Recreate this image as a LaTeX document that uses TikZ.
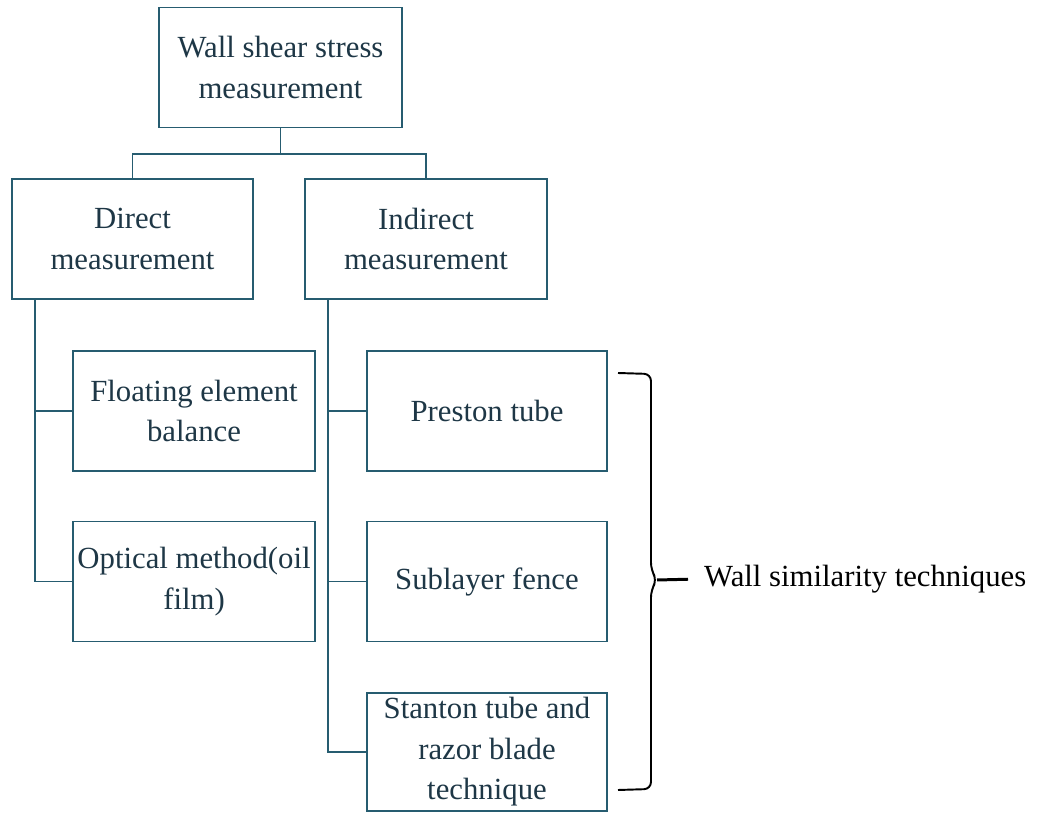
\documentclass[tikz,border=0pt]{standalone}
\usepackage{fontspec}
\setmainfont{Liberation Serif}
\usepackage{xcolor}
\usepackage{tikz}
\usetikzlibrary{positioning, calc}

\definecolor{boxline}{RGB}{38,92,112}
\definecolor{boxtext}{RGB}{30,55,70}

\begin{document}
\begin{tikzpicture}[x=0.02cm, y=-0.02cm,
    mbox/.style={draw=boxline, line width=1.1pt, minimum width=#1*0.02cm, minimum height=2.4cm, inner sep=2pt,
        align=center, text=boxtext, font=\fontsize{17.5}{23}\selectfont},
    link/.style={draw=boxline, line width=1.1pt}
]
\useasboundingbox (0,0) rectangle (1041,813);

% top level
\node[mbox=243] (wss) at (280.5, 67.5) {Wall shear stress\\measurement};

\node[mbox=241] (direct) at (132.5, 239) {Direct\\measurement};
\node[mbox=242] (indirect) at (426, 239) {Indirect\\measurement};

% methods
\node[mbox=242] (feb) at (194, 411) {Floating element\\balance};
\node[mbox=242] (optic) at (194, 581.5) {Optical method(oil\\film)};
\node[mbox=240] (preston) at (487, 411) {Preston tube};
\node[mbox=240] (fence) at (487, 581.5) {Sublayer fence};
\node[mbox=240, minimum height=2.36cm] (stanton) at (487, 752) {Stanton tube and\\razor blade\\technique};

\draw[link] (wss.south) -- ++(0,26) coordinate (hub);
\draw[link] (direct.north) |- (hub) -| (indirect.north);

\coordinate (dtrunk) at ($(direct.south west)+(24,0)$);
\coordinate (itrunk) at ($(indirect.south west)+(24,0)$);
\draw[link] (dtrunk) |- (feb.west);
\draw[link] (dtrunk) |- (optic.west);
\draw[link] (itrunk) |- (preston.west);
\draw[link] (itrunk) |- (fence.west);
\draw[link] (itrunk) |- (stanton.west);

% brace
\node[anchor=west, font=\fontsize{17.5}{23}\selectfont] (wst) at (698, 579) {Wall similarity techniques};
\coordinate (tip) at (657, 580);
\draw[line width=1.1pt, rounded corners=4pt] (618,373) -- (651,374) -- (651,570) -- (tip) -- (651,590) -- (651,789) -- (618,790);
\draw[line width=1.7pt, shorten >=0.2cm] (tip) -- (wst.west);

\end{tikzpicture}
\end{document}
